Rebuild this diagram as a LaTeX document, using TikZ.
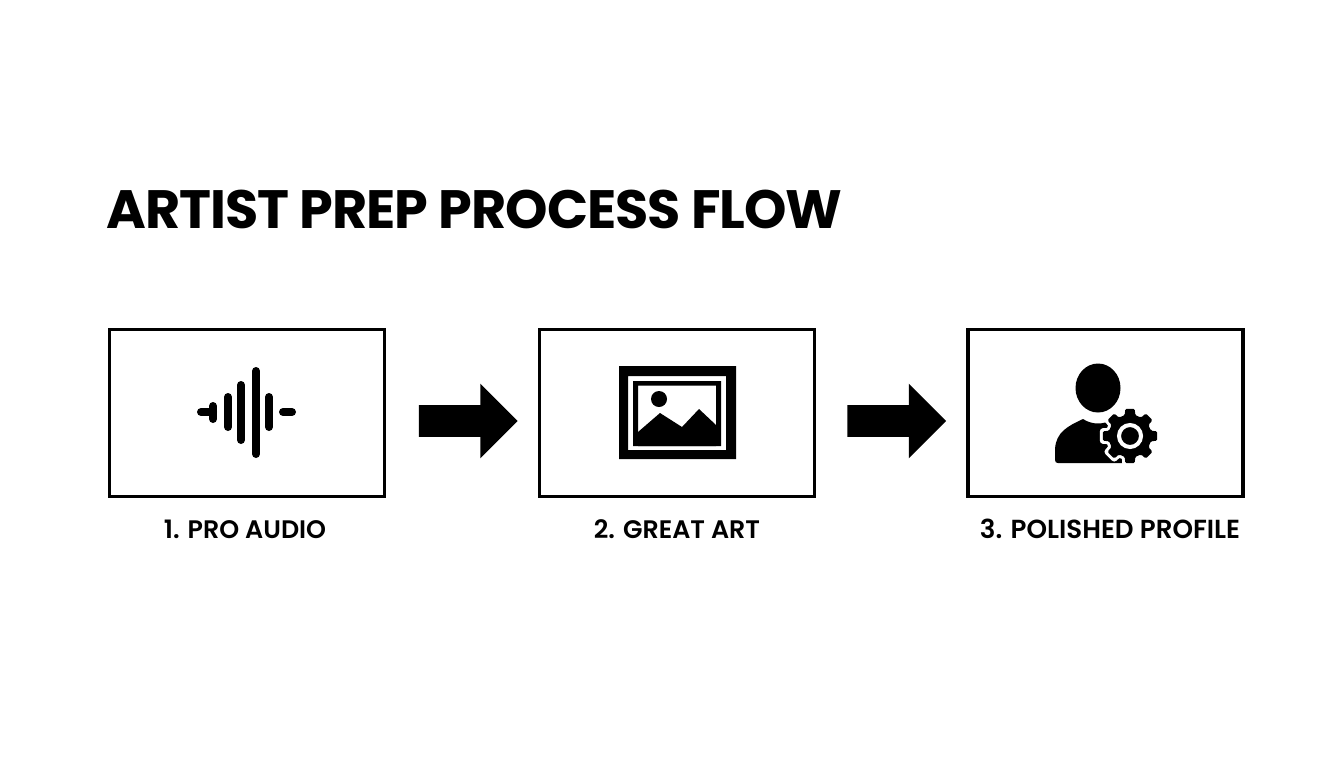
\documentclass[tikz,border=0pt]{standalone}
\usepackage{fontspec}
\setmainfont{Poppins}[BoldFont={Poppins SemiBold}]
\newfontfamily\titlefont{Poppins}[LetterSpace=-1.9]
\usetikzlibrary{shapes.arrows}
\newcommand{\gearpath}{(-14:21.5) \foreach \a in {0,45,...,315} { -- (\a-14:21.5) -- (\a-10:27.5) -- (\a+10:27.5) -- (\a+14:21.5) } -- cycle}
\tikzset{
  stepbox/.style={draw=black, line width=2.6pt, minimum width=206.25pt, minimum height=125pt, inner sep=0pt},
  flowarrow/.style={shape=single arrow, fill=black, inner sep=0pt, minimum height=74pt, minimum width=55.5pt,
    text height=23.5pt, text depth=0pt, single arrow head extend=16pt, single arrow tip angle=90, anchor=tip},
  steplabel/.style={font=\fontsize{19pt}{22pt}\selectfont\bfseries, text=black, inner sep=0pt},
  wavebar/.style={line width=6pt, line cap=round}
}
\begin{document}
\begin{tikzpicture}[x=0.75pt, y=-0.75pt]
    \useasboundingbox (0,0) rectangle (1344,768);
    \node[font=\titlefont\fontsize{40.5pt}{46pt}\selectfont\bfseries, anchor=west, inner sep=0pt] (title) at (106,209) {ARTIST PREP PROCESS FLOW};
    % Boxes and arrows
    \node[stepbox] (box1) at (247.25,413) {};
    \node[stepbox] (box2) at (677,413) {};
    \node[stepbox] (box3) at (1105.5,413) {};
    \node[flowarrow] (arrow1) at (518,421) {};
    \node[flowarrow] (arrow2) at (946.5,421) {};
    % Labels
    \node[steplabel] (label1) at (245,529) {1. PRO AUDIO};
    \node[steplabel] (label2) at (677,529) {2. GREAT ART};
    \node[steplabel, font=\fontsize{19.6pt}{22pt}\selectfont\bfseries] (label3) at (1110,529) {3. POLISHED PROFILE};
    % Waveform
    \foreach \x/\a/\b in {213/406/419, 228/397/427, 241/385/440, 256/371/454, 269/397/427}
        \draw[wavebar] (\x,\a) -- (\x,\b);
    \draw[wavebar] (201,412) -- (213,412);
    \draw[wavebar] (283,412) -- (292,412);
    % Framed picture
    \fill[even odd rule] (619,366) rectangle (736,459) (628,376) rectangle (726,450);
    \fill[even odd rule] (633,381) rectangle (721,446) (638,385.5) rectangle (716,446);
    \fill (638,432) -- (660,413) -- (682,427) -- (699,409) -- (716,425) -- (716,446) -- (638,446) -- cycle;
    \fill (659,399) circle (8);
    % Person
    \fill (1098,388) ellipse (22.5 and 24.5);
    \fill (1058,463) .. controls (1056,463) and (1055,462) .. (1055,460) -- (1055,449)
        .. controls (1056,432) and (1068,426) .. (1083,419)
        .. controls (1092,425) and (1104,425) .. (1113,419) -- (1125,425) -- (1125,463) -- cycle;
    % Gear
    \begin{scope}[shift={(1130,436)}]
        \draw[white, line width=4.5pt, line join=round] \gearpath;
        \fill[rounded corners=1pt] \gearpath;
        \draw[white, line width=3pt] (0,0) circle (11);
    \end{scope}
\end{tikzpicture}
\end{document}
